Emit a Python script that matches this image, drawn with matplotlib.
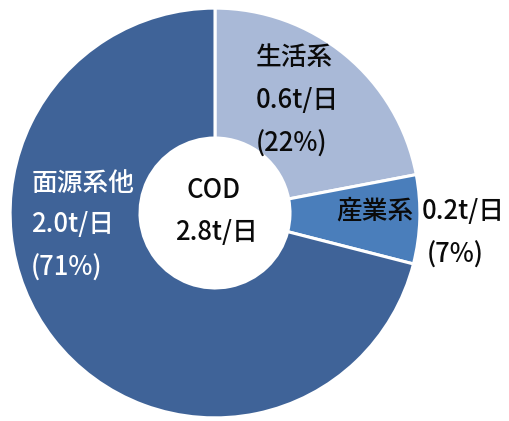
import matplotlib
matplotlib.use('Agg')
import matplotlib.pyplot as plt

plt.rcParams['font.family'] = ['Noto Sans CJK JP', 'DejaVu Sans']

''' data '''
lsNames = ['生活系', '産業系', '面源系他']
lfLoads = [0.6, 0.2, 2.0]
liPct = [22, 7, 71]
lsColors = ['#A9B9D7', '#4A7EBB', '#3F6398']
fTotal = 2.8

fig = plt.figure(figsize=(5.09, 4.21), dpi=100)
ax = fig.add_axes([5 / 509, -2 / 421, 420 / 509, 420 / 421])

ax.pie(liPct, colors=lsColors, startangle=90, counterclock=False,
       radius=1.0, wedgeprops=dict(width=0.634, edgecolor='white', linewidth=2.2))
ax.set_xlim(-1.025, 1.025)
ax.set_ylim(-1.025, 1.025)
ax.set_aspect('equal')
ax.axis('off')


def px(x, y):
    ''' pixel position in the picture -> data coords '''
    return (x - 215) / 205.0, (213 - y) / 205.0


fs = 18.5
kw = dict(fontsize=fs, fontweight='medium', va='center')

# 生活系
for i, y in enumerate([57, 100, 144]):
    s = [lsNames[0], '%.1ft/日' % lfLoads[0], '(%d%%)' % liPct[0]][i]
    ax.text(*px(256, y), s, ha='left', color='#0a0a0a', **kw)

# 産業系
ax.text(*px(336, 211), lsNames[1], ha='left', color='#0a0a0a', **kw)
ax.text(*px(422, 211), '%.1ft/日' % lfLoads[1], ha='left', color='#0a0a0a', **kw)
ax.text(*px(427, 255), '(%d%%)' % liPct[1], ha='left', color='#0a0a0a', **kw)

# 面源系他
for i, y in enumerate([183, 225, 268]):
    s = [lsNames[2], '%.1ft/日' % lfLoads[2], '(%d%%)' % liPct[2]][i]
    ax.text(*px(31, y), s, ha='left', color='white', **kw)

# center
ax.text(*px(214, 190), 'COD', ha='center', color='#0a0a0a', **kw)
ax.text(*px(216, 233), '%.1ft/日' % fTotal, ha='center', color='#0a0a0a', **kw)

fig.savefig('out.png', dpi=100)
